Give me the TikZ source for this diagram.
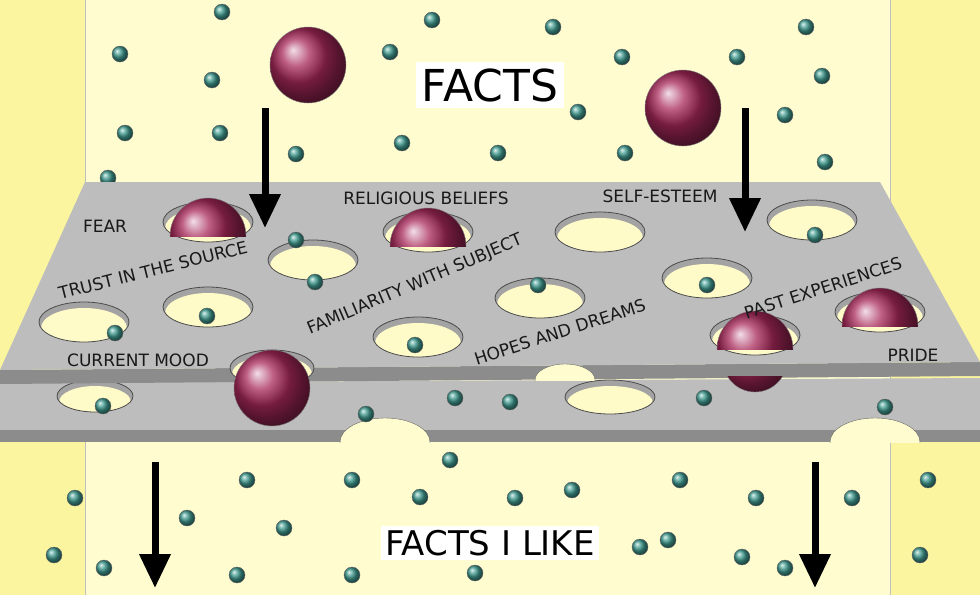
\documentclass[tikz,border=0pt]{standalone}
\usepackage{fontspec}
\setmainfont{DejaVu Sans}
\usetikzlibrary{arrows.meta}
\definecolor{bgout}{HTML}{FBF5A0}
\definecolor{bgin}{HTML}{FFFDD0}
\definecolor{plate}{HTML}{BDBDBD}
\definecolor{plateedge}{HTML}{8C8C8C}
\definecolor{holein}{HTML}{FFFBC8}
\definecolor{ball}{HTML}{A8285A}
\definecolor{dotc}{HTML}{3F9A8F}
\tikzset{
 dotp/.style={circle,inner sep=0pt,minimum size=16pt,ball color=dotc,draw=black!60},
 bigball/.style={ball color=ball,draw=black!50},
 lab/.style={font=\fontsize{17}{17}\selectfont,inner sep=1pt,text=black!90},
 farrow/.style={line width=7pt,-{Triangle[width=30pt,length=34pt]}},
}
\newcommand{\myhole}[4]{% cx cy rx ry
  \fill[plateedge!80] (#1,#2) ellipse (#3 and #4);
  \begin{scope}\clip (#1,#2) ellipse (#3 and #4);
  \fill[holein] (#1,#2+6) ellipse (#3-2 and #4);\end{scope}
  \draw[black!70,line width=0.8pt] (#1,#2) ellipse (#3 and #4);}
\begin{document}
\begin{tikzpicture}[x=1pt,y=-1pt]
\useasboundingbox (0,0) rectangle (980,595);
\fill[bgout] (0,0) rectangle (980,595);
\fill[bgin] (85,0) rectangle (890,595);
\draw[black!25] (85,0)--(85,595) (890,0)--(890,595);
\shade[bigball] (308,65) circle (38);
\shade[bigball] (683,108) circle (38);
\foreach \x/\y [count=\i] in {222/12,120/54,212/80,390/52,432/20,553/27,622/57,737/57,806/27,822/76,125/133,220/133,296/154,402/143,498/153,578/112,625/153,785/115,825/162,108/178,543/195,865/192}
  \node[dotp] (u\i) at (\x,\y) {};
% lower plate
\fill[plate] (0,383)--(980,378)--(980,430)--(0,430)--cycle;
\fill[plateedge] (0,430) rectangle (980,442);
\begin{scope}\clip (0,0) rectangle (980,442.5);
\foreach \cx in {385,875}{\fill[bgin] (\cx,442) ellipse (45 and 24);\draw[black!60] (\cx,442) ellipse (45 and 24);}
\end{scope}
\myhole{95}{396}{38}{16}
\myhole{610}{397}{45}{17}
\node[dotp] (l1) at (103,406) {};
\node[dotp] (l2) at (366,414) {};
\node[dotp] (l3) at (455,398) {};
\node[dotp] (l4) at (510,402) {};
\node[dotp] (l5) at (704,398) {};
\node[dotp] (l6) at (885,407) {};
% top plate
\fill[plateedge] (0,370)--(980,362)--(980,376)--(0,384)--cycle;
\fill[plate] (85,182)--(880,182)--(980,362)--(0,370)--cycle;
\begin{scope}\clip (0,0) rectangle (980,380.5);
\fill[bgin] (565,380) ellipse (30 and 16);\draw[black!60] (565,380) ellipse (30 and 16);
\end{scope}
\foreach \cx/\cy in {208/222,313/260,428/232,600/232,812/220,707/278,540/298,208/307,84/322,418/337,755/335,880/312}
  {\myhole{\cx}{\cy}{45}{20}}
\myhole{272}{368}{42}{18}
\foreach \cx/\cy in {208/222,428/232,755/335,880/312}{
  \begin{scope}\clip (\cx-50,\cy-60) rectangle (\cx+50,\cy+14);
  \shade[bigball] (\cx,\cy+14) circle (38);\end{scope}}
\shade[bigball] (272,388) circle (38);
\begin{scope}\clip (700,376) rectangle (800,395);\shade[bigball] (755,360) circle (32);\end{scope}
\node[dotp] (h1) at (296,240) {};
\node[dotp] (h2) at (315,282) {};
\node[dotp] (h3) at (815,235) {};
\node[dotp] (h4) at (538,285) {};
\node[dotp] (h5) at (707,285) {};
\node[dotp] (h6) at (207,316) {};
\node[dotp] (h7) at (115,333) {};
\node[dotp] (h8) at (415,345) {};
% labels
\node[lab] (fear) at (105,226) {FEAR};
\node[lab] (rel) at (426,198) {RELIGIOUS BELIEFS};
\node[lab] (self) at (660,196) {SELF-ESTEEM};
\node[lab,rotate=14] (trust) at (153,270) {TRUST IN THE SOURCE};
\node[lab,rotate=23] (fam) at (415,285) {FAMILIARITY WITH SUBJECT};
\node[lab,rotate=18] (hope) at (560,332) {HOPES AND DREAMS};
\node[lab,rotate=18] (past) at (823,288) {PAST EXPERIENCES};
\node[lab] (mood) at (138,360) {CURRENT MOOD};
\node[lab] (pride) at (913,355) {PRIDE};
\foreach \x/\y [count=\i] in {450/460,75/498,187/518,247/480,352/480,420/497,515/498,572/490,680/480,756/498,852/498,928/480,54/555,104/568,237/575,284/528,352/575,475/573,640/547,668/540,742/557,785/568,920/555}
  \node[dotp] (d\i) at (\x,\y) {};
\node[fill=white,inner sep=6pt,font=\fontsize{44}{44}\selectfont] (facts) at (490,85) {FACTS};
\node[fill=white,inner sep=4pt,font=\fontsize{34}{34}\selectfont] (like) at (490,543) {FACTS I LIKE};
\coordinate (a1) at (265,108); \coordinate (b1) at (265,228);
\coordinate (a2) at (745,108); \coordinate (b2) at (745,232);
\coordinate (a3) at (155,462); \coordinate (b3) at (155,588);
\coordinate (a4) at (815,462); \coordinate (b4) at (815,588);
\draw[farrow] (a1)--(b1);
\draw[farrow] (a2)--(b2);
\draw[farrow] (a3)--(b3);
\draw[farrow] (a4)--(b4);
\end{tikzpicture}
\end{document}
